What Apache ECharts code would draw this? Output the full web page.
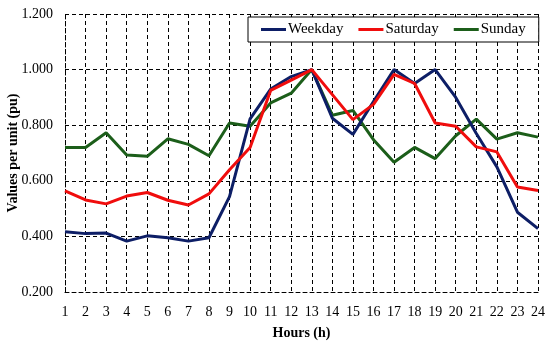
<!DOCTYPE html>
<html>
<head>
<meta charset="utf-8">
<script src="https://cdn.jsdelivr.net/npm/echarts@6/dist/echarts.min.js"></script>
<style>html,body{margin:0;padding:0;background:#fff}#c{width:550px;height:344px}</style>
</head>
<body>
<div id="c"></div>
<script>
var hours = ['1','2','3','4','5','6','7','8','9','10','11','12','13','14','15','16','17','18','19','20','21','22','23','24'];
var weekday = [0.417,0.410,0.412,0.383,0.402,0.395,0.383,0.395,0.543,0.823,0.930,0.975,1.000,0.825,0.767,0.885,1.000,0.950,1.000,0.900,0.770,0.650,0.487,0.428];
var saturday = [0.564,0.531,0.517,0.545,0.558,0.530,0.513,0.553,0.640,0.720,0.925,0.962,1.000,0.910,0.820,0.875,0.983,0.950,0.808,0.796,0.722,0.704,0.578,0.565];
var sunday = [0.720,0.720,0.773,0.693,0.688,0.751,0.731,0.690,0.808,0.796,0.880,0.915,1.000,0.836,0.853,0.748,0.667,0.720,0.680,0.762,0.822,0.750,0.773,0.757];
var yTicks = [0.2, 0.4, 0.6, 0.8, 1.0, 1.2];

var font = 'Liberation Serif';
var chart = echarts.init(document.getElementById('c'));
var dashed = {color: '#000', type: [4, 3], width: 1};
chart.setOption({
  animation: false,
  textStyle: {fontFamily: font},
  grid: {left: 65, right: 12, top: 14, bottom: 52, containLabel: false, outerBoundsMode: 'none'},
  legend: {
    left: 248, top: 17,
    data: ['Weekday', 'Saturday', 'Sunday'],
    icon: 'rect', itemWidth: 25, itemHeight: 3, itemGap: 15,
    padding: [5, 13, 5, 13],
    borderColor: '#000', borderWidth: 1, backgroundColor: '#fff',
    textStyle: {fontFamily: font, fontSize: 15, color: '#000', padding: [0, 0, 0, -3]}
  },
  xAxis: {
    type: 'category', data: hours, boundaryGap: false,
    name: 'Hours (h)', nameLocation: 'middle', nameGap: 34, nameMoveOverlap: false,
    nameTextStyle: {fontFamily: font, fontWeight: 'bold', fontSize: 14, color: '#000'},
    axisLine: {lineStyle: dashed},
    axisTick: {show: false},
    axisLabel: {color: '#000', fontSize: 14, margin: 13, fontFamily: font, interval: 0},
    splitLine: {show: true, interval: 0, lineStyle: dashed}
  },
  yAxis: {
    type: 'value', min: 0.2, max: 1.2, interval: 0.2,
    name: 'Values per unit (pu)', nameLocation: 'middle', nameGap: 45, nameMoveOverlap: false,
    nameTextStyle: {fontFamily: font, fontWeight: 'bold', fontSize: 14, color: '#000'},
    axisLine: {show: true, lineStyle: dashed},
    axisTick: {show: false},
    axisLabel: {color: '#000', fontSize: 14, margin: 12, fontFamily: font,
      formatter: function (v) { return v.toFixed(3); }},
    splitLine: {show: true, lineStyle: dashed}
  },
  series: [
    {name: 'Weekday', type: 'line', data: weekday, symbol: 'none', z: 3,
     lineStyle: {color: '#0d1e66', width: 3}, itemStyle: {color: '#0d1e66'}},
    {name: 'Saturday', type: 'line', data: saturday, symbol: 'none', z: 4,
     lineStyle: {color: '#f00d0d', width: 3}, itemStyle: {color: '#f00d0d'}},
    {name: 'Sunday', type: 'line', data: sunday, symbol: 'none', z: 2,
     lineStyle: {color: '#1c5e1a', width: 3}, itemStyle: {color: '#1c5e1a'}}
  ]
});
</script>
</body>
</html>
